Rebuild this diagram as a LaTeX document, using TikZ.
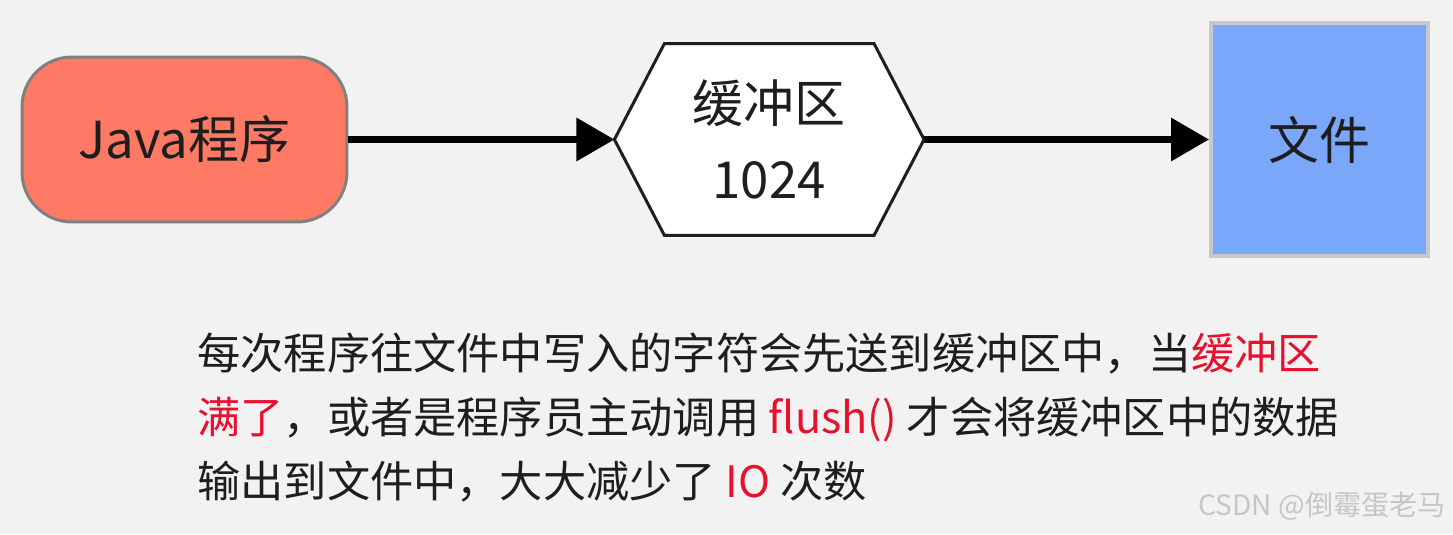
\documentclass[tikz,border=0pt]{standalone}
\usepackage{fontspec}
\setmainfont{Noto Sans CJK SC}
\usetikzlibrary{positioning, backgrounds, arrows.meta}
\definecolor{backdrop}{HTML}{F2F2F2}
\definecolor{ink}{HTML}{1E1E1E}
\definecolor{javafill}{HTML}{FF7A64}
\definecolor{javaedge}{HTML}{808080}
\definecolor{filefill}{HTML}{7BA7FA}
\definecolor{fileedge}{HTML}{C8C8C8}
\definecolor{alert}{HTML}{E8112D}

\begin{document}
\begin{tikzpicture}[x=0.02cm, y=-0.02cm, >={Triangle[length=0.76cm, width=0.84cm]},
  label text/.style={font=\fontsize{29}{43}\selectfont, text=ink},
  program/.style={draw=javaedge, line width=1.7pt, fill=javafill, rounded corners=1cm, minimum width=6.5cm, minimum height=3.3cm, label text},
  buffer box/.style={minimum width=6.18cm, minimum height=3.82cm, align=center, label text},
  file box/.style={draw=fileedge, line width=2.2pt, fill=filefill, minimum width=4.34cm, minimum height=4.66cm, label text},
  flow/.style={->, line width=3.8pt},
  note/.style={font=\fontsize{24.6}{36}\selectfont, text=ink, anchor=base west, inner sep=0pt},
  watermark/.style={font=\fontsize{16}{20}\selectfont, text=gray!45, anchor=south east, inner sep=0pt}]
  % Three stages in a row, text note below.
  \node[program] (java) at (184.5,139.5) {Java程序};
  \node[buffer box, right=5.32cm of java] (buffer) {缓冲区\\1024};
  \node[file box, right=5.70cm of buffer] (file) {文件};

  \draw[flow] (java) -- (buffer);
  \draw[flow] (buffer) -- (file);

  \node[note] (line1) at (197,369) {每次程序往文件中写入的字符会先送到缓冲区中，当\textcolor{alert}{缓冲区}};
  \node[note] (line2) at (197,433) {\textcolor{alert}{满了}，或者是程序员主动调用 \textcolor{alert}{flush()} 才会将缓冲区中的数据};
  \node[note] (line3) at (197,497) {输出到文件中，大大减少了 \textcolor{alert}{IO} 次数};
  \node[watermark] (credit) at (1446,521) {CSDN @倒霉蛋老马};

  % Backdrop and the hexagon outline of the buffer.
  \begin{scope}[on background layer]
    \fill[backdrop] (0,0) rectangle (1453,534);
    \draw[draw=ink, line width=1.7pt, fill=white] (buffer.west) -- ([xshift=1cm]buffer.north west)
      -- ([xshift=-1cm]buffer.north east) -- (buffer.east)
      -- ([xshift=-1cm]buffer.south east) -- ([xshift=1cm]buffer.south west) -- cycle;
  \end{scope}
\end{tikzpicture}
\end{document}
